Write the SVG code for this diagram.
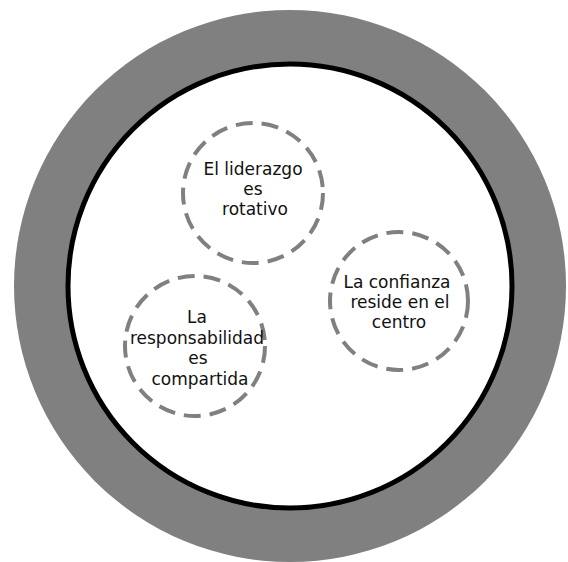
<svg xmlns="http://www.w3.org/2000/svg" width="568" height="562" viewBox="0 0 568 562">
<style>
.ring{fill:#808080;stroke:none}
.core{fill:#ffffff;stroke:#000000;stroke-width:5}
.node{fill:none;stroke:#808080;stroke-width:4;stroke-dasharray:17 9}
.lbl{font-family:"DejaVu Sans",sans-serif;font-size:17px;fill:#111111;text-anchor:middle}
</style>
<rect width="568" height="562" fill="#ffffff"/>
<circle class="ring" cx="290" cy="286" r="276"/>
<circle class="core" cx="290" cy="286" r="222"/>
<g id="connectors"></g>
<g id="node-liderazgo">
<circle class="node" cx="253" cy="193" r="70"/>
<text class="lbl" x="253" y="175">El liderazgo</text>
<text class="lbl" x="253" y="195">es</text>
<text class="lbl" x="255" y="215">rotativo</text>
</g>
<g id="node-responsabilidad">
<circle class="node" cx="195" cy="346" r="70"/>
<text class="lbl" x="197" y="323">La</text>
<text class="lbl" x="197" y="344">responsabilidad</text>
<text class="lbl" x="198" y="364">es</text>
<text class="lbl" x="200" y="385">compartida</text>
</g>
<g id="node-confianza">
<circle class="node" cx="399" cy="301" r="69"/>
<text class="lbl" x="397" y="288">La confianza</text>
<text class="lbl" x="400" y="308">reside en el</text>
<text class="lbl" x="399" y="328">centro</text>
</g>
</svg>
